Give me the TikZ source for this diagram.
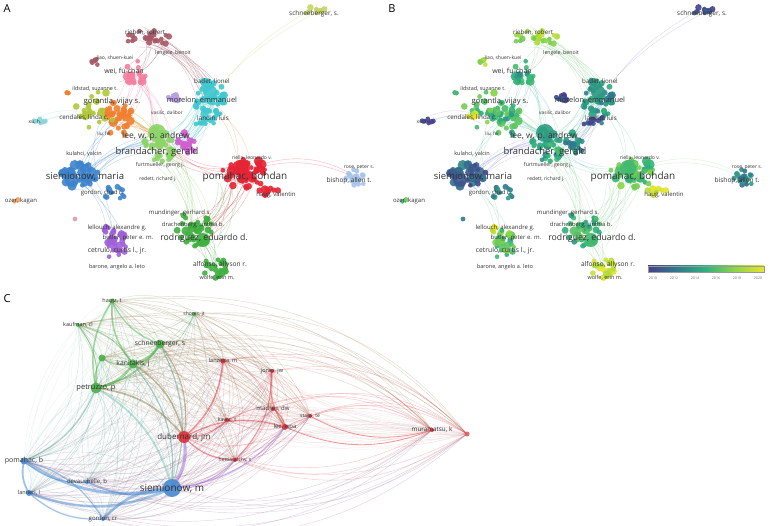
\documentclass[tikz,border=0pt]{standalone}
\usepackage{fontspec}
\setmainfont{Open Sans}
\definecolor{cRed}{HTML}{E52535}
\definecolor{cGreen}{HTML}{40B040}
\definecolor{cBlue}{HTML}{3D84CC}
\definecolor{cLGreen}{HTML}{8CD468}
\definecolor{cMag}{HTML}{D060D0}
\definecolor{cCyan}{HTML}{40C8D0}
\definecolor{cLav}{HTML}{B8A0E0}
\definecolor{cOrange}{HTML}{F08030}
\definecolor{cOlive}{HTML}{B0C838}
\definecolor{cPink}{HTML}{F47FA0}
\definecolor{cBrown}{HTML}{A65A66}
\definecolor{cYel}{HTML}{C8D46A}
\definecolor{cLBlue}{HTML}{A8C4EC}
\definecolor{cCyanL}{HTML}{8CD4DC}
\definecolor{cPurple}{HTML}{A060D8}
\definecolor{cOrange2}{HTML}{F0A060}
\definecolor{cRosy}{HTML}{D8A0A0}
\definecolor{eGreen}{HTML}{8FD89A}
\definecolor{eTeal}{HTML}{6CC7B0}
\definecolor{ePurple}{HTML}{8A8FD8}
\definecolor{vir0}{HTML}{463F8C}
\definecolor{vir1}{HTML}{2E7B8E}
\definecolor{vir2}{HTML}{2EB37C}
\definecolor{vir3}{HTML}{8ED645}
\definecolor{vir4}{HTML}{E8E42A}
\definecolor{cg}{HTML}{4CB04C}
\definecolor{cr}{HTML}{E0303A}
\definecolor{cb}{HTML}{4A8AD0}
\definecolor{labc}{HTML}{333333}
\newcommand\vircol[1]{%
  \pgfmathsetmacro\vt{4*max(0,min(0.999,#1))}%
  \pgfmathtruncatemacro\vs{\vt}%
  \pgfmathtruncatemacro\vf{100*(\vt-\vs)}%
  \ifcase\vs\colorlet{vc}{vir1!\vf!vir0}\or\colorlet{vc}{vir2!\vf!vir1}\or\colorlet{vc}{vir3!\vf!vir2}\else\colorlet{vc}{vir4!\vf!vir3}\fi}
\newcommand\cl[8]{%
 \foreach \k in {1,...,#5}{%
  \pgfmathsetmacro\pa{360*rnd}%
  \pgfmathsetmacro\pd{rnd^0.7}%
  \pgfmathsetmacro\px{#1+#3*\pd*cos(\pa)}%
  \pgfmathsetmacro\py{#2+#4*\pd*sin(\pa)}%
  \pgfmathsetmacro\pr{2.3+(#8-2.3)*rnd*rnd}%
  \pgfmathsetmacro\pv{#7+0.15*rand}%
  \fill[#6,opacity=.9] (\px,\py) circle[radius=\pr];%
  \vircol{\pv}%
  \fill[vc,opacity=.9] (\px+388,\py) circle[radius=\pr];%
 }}
\newcommand\ed[9]{%
 \foreach \k in {1,...,#7}{%
  \pgfmathsetmacro\ax{#1+#3*rand}\pgfmathsetmacro\ay{#2+#3*rand*0.7}%
  \pgfmathsetmacro\bx{#4+#6*rand}\pgfmathsetmacro\by{#5+#6*rand*0.7}%
  \pgfmathsetmacro\bb{12+15*rnd}%
  \draw[#8,opacity=.4,line width=.3pt] (\ax,\ay) to[bend left=\bb] (\bx,\by);%
  \draw[#9,opacity=.4,line width=.3pt] (\ax+388,\ay) to[bend left=\bb] (\bx+388,\by);%
 }}
\newcommand\bignode[5]{%
  \fill[#3,opacity=.9] (#1,#2) circle[radius=#4];%
  \vircol{#5}\fill[vc,opacity=.9] (#1+388,#2) circle[radius=#4];}
\tikzset{lab/.style={font=\fontsize{#1}{#1}\selectfont,text=labc,inner sep=0pt},
  panel/.style={font=\fontsize{11}{11}\selectfont,inner sep=0pt}}
\def\Clist{1/ha/cg,2/sh/cg,3/kau/cg,4/sc/cg,5/un/cg,6/ka/cg,7/pe/cg,8/lan/cr,9/jo/cr,10/ma/cr,11/st/cr,12/kaw/cr,13/le/cr,14/mu/cr,15/ex/cr,16/du/cr,17/he/cr,18/po/cb,19/de/cb,20/si/cb,21/la/cb,22/go/cb}
\begin{document}
\begin{tikzpicture}[x=1pt,y=-1pt]
\fill[white] (0,0) rectangle (770,526);
\useasboundingbox (0,0) rectangle (770,526);
\pgfmathsetseed{4242}
% ---------- panels A and B: links
\ed{150}{38}{18}{210}{95}{14}{14}{cBrown}{eGreen}
\ed{150}{40}{15}{130}{78}{12}{6}{cBrown}{eGreen}
\ed{133}{75}{12}{118}{118}{12}{8}{cPink}{eTeal}
\ed{133}{75}{12}{160}{145}{14}{8}{cPink}{eTeal}
\ed{210}{100}{14}{160}{145}{14}{14}{cCyan}{eTeal}
\ed{205}{112}{6}{316}{11}{6}{2}{cYel}{ePurple}
\ed{118}{118}{12}{160}{145}{14}{10}{cOrange}{eTeal}
\ed{100}{110}{18}{160}{145}{14}{6}{cOlive}{eGreen}
\ed{160}{150}{14}{198}{228}{14}{12}{cLGreen}{eGreen}
\ed{85}{175}{15}{160}{145}{14}{10}{cBlue}{ePurple}
\ed{85}{178}{12}{115}{243}{10}{4}{cBlue}{eTeal}
\ed{85}{175}{12}{118}{118}{12}{5}{cBlue}{eTeal}
\ed{245}{173}{16}{198}{232}{14}{10}{cRed}{eGreen}
\ed{228}{185}{10}{205}{240}{14}{8}{cGreen}{eGreen}
\ed{255}{170}{6}{356}{178}{6}{2}{cRed}{eGreen}
\ed{245}{173}{14}{165}{145}{12}{5}{cRed}{eTeal}
\ed{210}{105}{10}{245}{170}{12}{3}{cOrange}{eTeal}
\ed{210}{100}{12}{187}{145}{8}{8}{cCyan}{ePurple}
\ed{42}{121}{6}{100}{115}{15}{3}{cCyanL}{ePurple}
\ed{198}{232}{14}{215}{268}{10}{10}{cGreen}{eGreen}
\ed{245}{173}{16}{245}{173}{16}{15}{cRed}{eGreen}
\ed{210}{100}{14}{210}{100}{14}{15}{cCyan}{eTeal}
\ed{80}{177}{16}{80}{177}{16}{10}{cBlue}{ePurple}
\ed{118}{115}{14}{118}{115}{14}{10}{cOrange}{eTeal}
% ---------- panels A and B: items
\cl{245}{173}{24}{15}{55}{cRed}{0.6}{6}
\cl{268}{190}{10}{8}{10}{cRed}{0.95}{4.5}
\bignode{240}{168}{cRed}{8}{0.55}
\cl{195}{228}{18}{18}{40}{cGreen}{0.52}{5}
\cl{215}{268}{14}{10}{20}{cGreen}{0.95}{4.5}
\bignode{203}{240}{cGreen}{7}{0.55}
\cl{78}{175}{20}{12}{42}{cBlue}{0.15}{5.5}
\cl{112}{193}{14}{8}{12}{cBlue}{0.3}{3.5}
\bignode{72}{180}{cBlue}{7}{0.1}
\cl{160}{145}{18}{17}{40}{cLGreen}{0.45}{5}
\bignode{157}{133}{cLGreen}{9}{0.4}
\cl{187}{145}{10}{13}{24}{cMag}{0.3}{4}
\cl{210}{100}{15}{24}{45}{cCyan}{0.38}{5}
\bignode{210}{92}{cCyan}{7}{0.38}
\cl{205}{120}{12}{7}{12}{cCyan}{0.05}{3.5}
\cl{175}{98}{8}{10}{10}{cLav}{0.02}{3.5}
\cl{118}{118}{14}{20}{40}{cOrange}{0.52}{5}
\cl{65}{93}{4}{3}{3}{cOrange}{0.45}{3}
\cl{100}{110}{25}{22}{22}{cOlive}{0.6}{4}
\cl{85}{117}{6}{4}{5}{cOlive}{1.0}{4.5}
\cl{133}{75}{13}{15}{20}{cPink}{0.45}{5}
\cl{150}{38}{24}{8}{26}{cBrown}{0.8}{4}
\cl{96}{62}{5}{5}{6}{cBrown}{0.75}{3}
\cl{316}{11}{11}{5}{12}{cYel}{0.08}{3.5}
\cl{356}{178}{10}{9}{18}{cLBlue}{0.3}{4}
\cl{42}{121}{9}{3}{7}{cCyanL}{0.02}{3}
\cl{115}{243}{12}{16}{32}{cPurple}{0.6}{4.5}
\cl{108}{228}{6}{5}{6}{cPurple}{0.98}{3.5}
\cl{17}{201}{3}{2}{2}{cOrange2}{0.6}{3}
\cl{75}{219}{0}{0}{1}{cRosy}{0.35}{3}
% ---------- labels A and B
\foreach \x/\y/\s/\t [count=\n] in {
 314/14/6.5/{schneeberger, s.}, 145/33/6.2/{rieben, robert}, 173/53/5.2/{lengele, benoit},
 115/58/5/{liao, shuen-kuei}, 124/71/7/{wei, fu-chan}, 212/82/6.2/{badet, lionel},
 95/89/5.4/{ildstad, suzanne t.}, 112/102/7.6/{gorantla, vijay s.}, 202/100/7.4/{morelon, emmanuel},
 167/113/4.8/{vasilic, dalibor}, 84/118/6.2/{cendales, linda c.}, 213/119/6.3/{landin, luis},
 35/122/5/{xu, h.}, 104/134/4.8/{liu, fei}, 156/136/8.5/{lee, w. p. andrew},
 84/154/5.5/{kulahci, yalcin}, 157/152/9.4/{brandacher, gerald}, 160/165/5.2/{furtmueller, georg j.},
 252/158/5/{riella, leonardo v.}, 359/167/5/{rose, peter s.}, 85/177/9.5/{siemionow, maria},
 158/179/5/{redett, richard j.}, 245/177/10/{pomahac, bohdan}, 349/181/6.6/{bishop, allen t.},
 102/193/6/{gordon, chad r.}, 276/195/6/{haug, valentin}, 21/201/6/{ozer, kagan},
 180/213/6/{mundinger, gerhard s.}, 117/228/6/{lellouch, alexandre g.}, 193/225/5.8/{drachenberg, cinthia b.},
 128/238/6/{butler, peter e. m.}, 204/238/8.7/{rodriguez, eduardo d.}, 117/251/6.8/{cetrulo, curtis l., jr.},
 117/267/5.5/{barone, angelo a. leto}, 220/265/6.6/{alfonso, allyson r.}, 217/278/5.5/{wolfe, erin m.}}{
 \node[lab=\s] (la\n) at (\x,\y) {\t};
 \node[lab=\s] (lb\n) at (\x+388,\y) {\t};
}
\node[panel] (pA) at (7,9) {A};
\node[panel] (pB) at (392,9) {B};
\node[panel] (pC) at (7,299) {C};
% ---------- colour bar
\shade[left color=vir0,right color=vir1] (648,266) rectangle (677,272.3);
\shade[left color=vir1,right color=vir2] (677,266) rectangle (706,272.3);
\shade[left color=vir2,right color=vir3] (706,266) rectangle (735,272.3);
\shade[left color=vir3,right color=vir4] (735,266) rectangle (764,272.3);
\draw[black!40,line width=.3pt] (648,266) rectangle (764,272.3);
\foreach \yr/\x in {2010/653,2012/674,2014/695,2016/716,2018/737,2020/758}
  \node[lab=3.6,text=black!55] (yr\yr) at (\x,278) {\yr};
% ---------- panel C
\foreach \n/\x/\y in {ha/112/301,sh/194/314,kau/78/325,sc/160/344,un/102/358,ka/133/364,pe/96/388,
  lan/223/361,jo/272/371,ma/273/409,st/310/416,kaw/227/420,le/285/427,mu/432/430,ex/467/434,
  du/184/437,he/235/460,po/24/461,de/87/482,si/172/488,la/29/493,go/103/519}
  \coordinate (\n) at (\x,\y);
\foreach \i/\a/\ca in \Clist {
  \foreach \j/\b/\cb in \Clist {
    \ifnum\j>\i \draw[\ca!50!\cb,opacity=.25,line width=.45pt] (\a) to[bend left=28] (\b);\fi
  }}
\foreach \i/\a/\ca in \Clist {
  \foreach \j/\b/\cb in \Clist {
    \ifnum\j>\i \draw[\ca!50!\cb,opacity=.1,line width=.35pt] (\b) to[bend left=18] (\a);\fi
  }}
\foreach \a/\b/\w/\c in {si/po/3/cb, si/la/2.5/cb, go/si/2.5/cb, si/de/1.6/cb, la/po/1.8/cb, po/go/1.2/cb,
  go/la/1.2/cb, de/po/1.1/cb, du/si/3/cPurple, pe/si/1.8/eTeal, pe/du/1.7/cg!60!cr, ka/du/1.5/cg!60!cr,
  ka/pe/2.4/cg, sc/pe/1.8/cg, sc/ka/2.4/cg, pe/ha/1.5/cg, ka/ha/1.5/cg, sc/ha/1.2/cg, pe/un/1.2/cg, ka/un/1.2/cg,
  kau/ka/1/cg, kau/pe/1/cg, lan/du/1.5/cr, du/le/1.2/cr, he/du/1.2/cr, le/jo/1.2/cr, ma/le/1/cr, jo/he/1/cr,
  kaw/du/1/cr, mu/st/0.8/cr, mu/le/0.8/cr, le/si/1.2/cPurple, he/si/1/cPurple, sc/du/1.1/cg!50!cr,
  pe/po/1/cg!50!cb, sc/si/1/cg!50!cb, ka/si/1.2/cg!50!cb}
  \draw[\c,opacity=.5,line width=\w pt] (\a) to[bend left=22] (\b);
\foreach \n/\r/\c/\s/\t in {ha/2.5/cg/5.5/{hautz, t}, sh/2/cg/5/{shores, jt}, kau/2/cg/5.5/{kaufman, cl},
  sc/4.5/cg/6.8/{schneeberger, s}, un/3.5/cg/5/{}, ka/4.5/cg/6.8/{kanitakis, j}, pe/5.5/cg/7.5/{petruzzo, p},
  lan/2.5/cr/5.5/{lanzetta, m}, jo/2/cr/5.5/{jones, jw}, ma/2/cr/6/{maches, dw}, st/2/cr/5/{starzl, te},
  kaw/2/cr/5.2/{kawai, t}, le/3/cr/6/{lee, wpa}, mu/2/cr/6.3/{muramatsu, k}, ex/2.5/cr!80!white/5/{},
  du/6/cr/8/{dubernard, jm}, he/2/cr/5/{hettiaratchy, s}, po/3.5/cb/7/{pomahac, b},
  de/2/cb/6/{devauchelle, b}, si/9/cb/10/{siemionow, m}, la/3/cb/5.5/{lantieri, l}, go/2/cb/6/{gordon, cr}}{
  \fill[\c,opacity=.9] (\n) circle[radius=\r];
  \node[lab=\s] (t\n) at (\n) {\t};
}
\end{tikzpicture}
\end{document}
